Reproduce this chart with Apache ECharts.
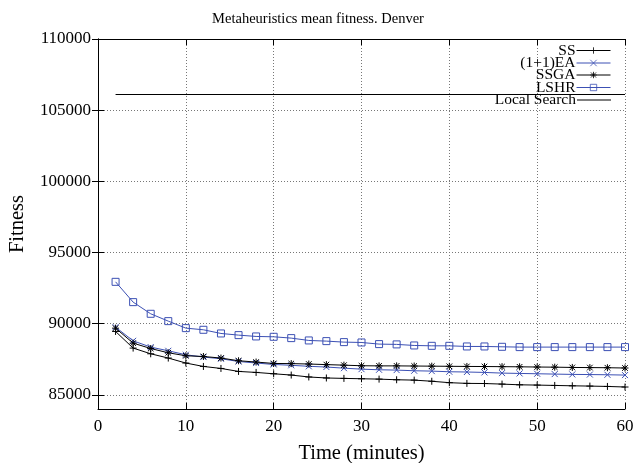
<!DOCTYPE html>
<html>
<head>
<meta charset="utf-8">
<script src="https://cdn.jsdelivr.net/npm/echarts@6/dist/echarts.min.js"></script>
<style>html,body{margin:0;padding:0;background:#fff}#c{width:636px;height:463px}</style>
</head>
<body>
<div id="c"></div>
<script>
var times = [2,4,6,8,10,12,14,16,18,20,22,24,26,28,30,32,34,36,38,40,42,44,46,48,50,52,54,56,58,60];
var ssValues = [89450,88280,87880,87580,87230,86990,86850,86640,86570,86475,86385,86250,86180,86150,86125,86100,86055,86030,85950,85850,85800,85790,85750,85700,85680,85655,85630,85610,85585,85545];
var eaValues = [89750,88790,88350,88090,87810,87650,87530,87340,87230,87130,87070,87000,86950,86870,86800,86757,86733,86687,86663,86617,86600,86570,86523,86500,86476,86453,86430,86420,86406,86383];
var ssgaValues = [89680,88630,88250,87950,87740,87690,87580,87390,87300,87200,87190,87160,87120,87080,87040,87030,87030,87020,87010,87000,86990,86985,86975,86965,86950,86940,86920,86910,86900,86880];
var lshrValues = [92936,91510,90690,90174,89683,89566,89308,89192,89098,89074,88981,88817,88770,88700,88675,88560,88540,88465,88440,88440,88395,88395,88370,88350,88350,88350,88350,88350,88350,88350];
var localSearchTimes = [2,60];
var localSearchValues = [106100,106100];
var yTicks = [85000,90000,95000,100000,105000,110000];
var seriesNames = ['SS','(1+1)EA','SSGA','LSHR','Local Search'];

var BLUE = '#3c50b4';
var FONT = 'Liberation Serif';
function pairs(xs, ys){ return xs.map(function(x,i){ return [x, ys[i]]; }); }

var plusSym = 'path://M0,5L10,5M5,0L5,10';
var crossSym = 'path://M0,0L10,10M10,0L0,10';
var starSym = 'path://M0,5L10,5M5,0L5,10M1,1L9,9M9,1L1,9';
var squareSym = 'path://M0,0L10,0L10,10L0,10Z';

function mk(name, data, color, sym, size, fill){
  return {
    name: name, type: 'line', data: data, xAxisIndex: 0, yAxisIndex: 0,
    symbol: sym, symbolSize: size, showSymbol: sym !== 'none',
    lineStyle: {color: color, width: 1},
    itemStyle: {color: fill || color, borderColor: color, borderWidth: 1},
    emphasis: {disabled: true}, animation: false, z: 3
  };
}

var legendCenters = [50.5, 63, 75, 87.5, 100];
var legends = seriesNames.map(function(n, i){
  var isLine = (n === 'Local Search');
  var h = isLine ? 1.2 : 8;
  var item = isLine ? {name: n, icon: 'rect'} : {name: n};
  return {
    data: [item], right: 25, top: legendCenters[i] - 8, orient: 'vertical', align: 'right',
    padding: 0, itemWidth: 34, itemHeight: h, selectedMode: false,
    lineStyle: {width: 1},
    itemStyle: isLine ? {color: '#000', borderWidth: 0} : {borderWidth: 0.8},
    textStyle: {fontFamily: FONT, fontSize: 15.5, color: '#000', padding: [0,-4,0,0]}
  };
});

var axisCommonX = {
  type: 'value', min: 0, max: 60, interval: 10,
  axisLine: {show: true, lineStyle: {color: '#000', width: 1}},
  axisTick: {show: true, inside: true, length: 6, lineStyle: {color: '#000'}}
};

var chart = echarts.init(document.getElementById('c'), null, {renderer: 'canvas'});
chart.setOption({
  backgroundColor: '#fff',
  animation: false,
  title: {text: 'Metaheuristics mean fitness. Denver', left: 'center', top: 7,
    textStyle: {fontFamily: FONT, fontSize: 14.5, fontWeight: 'normal', color: '#000'}},
  legend: legends,
  grid: {left: 98, right: 11, top: 39, bottom: 54, containLabel: false, outerBoundsMode: 'none'},
  xAxis: [
    Object.assign({}, axisCommonX, {position: 'bottom',
      name: 'Time (minutes)', nameLocation: 'middle', nameGap: 34,
      nameTextStyle: {fontFamily: FONT, fontSize: 20.5, color: '#000'},
      axisLabel: {fontFamily: FONT, fontSize: 17, color: '#000', margin: 9},
      splitLine: {show: true, lineStyle: {color: '#777', type: [1,2], width: 1}}}),
    Object.assign({}, axisCommonX, {position: 'top', axisLabel: {show: false}, splitLine: {show: false}})
  ],
  yAxis: [
    {type: 'value', min: 84000, max: 110000, position: 'left',
      name: 'Fitness', nameLocation: 'middle', nameGap: 70, nameRotate: 90,
      nameTextStyle: {fontFamily: FONT, fontSize: 20.5, color: '#000'},
      axisLine: {show: true, lineStyle: {color: '#000', width: 1}},
      axisTick: {show: true, inside: true, length: 6, customValues: yTicks, lineStyle: {color: '#000'}},
      axisLabel: {fontFamily: FONT, fontSize: 17, color: '#000', margin: 7, customValues: yTicks,
        formatter: function(v){ return String(v); }},
      splitLine: {show: true, lineStyle: {color: '#777', type: [1,2], width: 1}}},
    {type: 'value', min: 84000, max: 110000, position: 'right',
      axisLine: {show: true, lineStyle: {color: '#000', width: 1}},
      axisTick: {show: true, inside: true, length: 6, customValues: yTicks, lineStyle: {color: '#000'}},
      axisLabel: {show: false, customValues: yTicks},
      splitLine: {show: false}}
  ],
  series: [
    mk('SS', pairs(times, ssValues), '#000', plusSym, 7),
    mk('(1+1)EA', pairs(times, eaValues), BLUE, crossSym, 6),
    mk('SSGA', pairs(times, ssgaValues), '#000', starSym, 7),
    mk('LSHR', pairs(times, lshrValues), BLUE, squareSym, 7, 'rgba(0,0,0,0)'),
    mk('Local Search', pairs(localSearchTimes, localSearchValues), '#000', 'none', 0)
  ]
});
</script>
</body>
</html>
